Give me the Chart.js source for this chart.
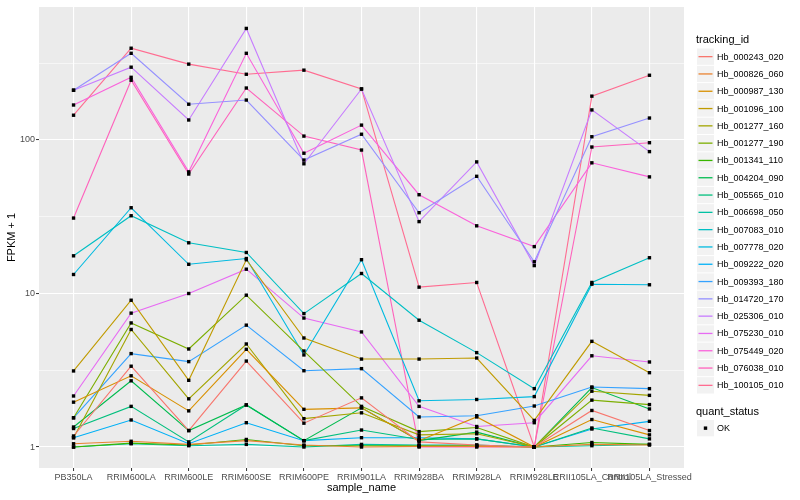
<!DOCTYPE html>
<html>
<head>
<meta charset="utf-8">
<script src="https://cdn.jsdelivr.net/npm/chart.js@4.4.0/dist/chart.umd.min.js"></script>
<style>
  body { margin: 0; background: #ffffff; }
</style>
</head>
<body>
<canvas id="chartFpkm" width="800" height="500"></canvas>
<script>
const categories = [
  "PB350LA", "RRIM600LA", "RRIM600LE", "RRIM600SE", "RRIM600PE", "RRIM901LA",
  "RRIM928BA", "RRIM928LA", "RRIM928LE", "RRII105LA_Control", "RRII105LA_Stressed",
];

const trackingIds = [
  "Hb_000243_020", "Hb_000826_060", "Hb_000987_130", "Hb_001096_100", "Hb_001277_160",
  "Hb_001277_190", "Hb_001341_110", "Hb_004204_090", "Hb_005565_010", "Hb_006698_050",
  "Hb_007083_010", "Hb_007778_020", "Hb_009222_020", "Hb_009393_180", "Hb_014720_170",
  "Hb_025306_010", "Hb_075230_010", "Hb_075449_020", "Hb_076038_010", "Hb_100105_010",
];

// FPKM + 1, one value per sample
const hb000243_020 = [1.18, 3.36, 1.28, 3.63, 1.43, 2.09, 1.08, 1.03, 1.0, 1.73, 1.28];
const hb000826_060 = [1.05, 1.09, 1.04, 1.1, 1.03, 1.0, 1.01, 1.01, 1.0, 1.04, 1.03];
const hb000987_130 = [1.96, 2.91, 1.72, 4.33, 1.76, 1.8, 1.1, 1.57, 1.0, 1.51, 1.2];
const hb001096_100 = [3.13, 9.04, 2.72, 16.6, 5.13, 3.74, 3.74, 3.8, 1.49, 4.88, 3.05];
const hb001277_160 = [1.15, 5.83, 2.06, 4.69, 1.53, 1.67, 1.2, 1.22, 1.0, 2.31, 2.17];
const hb001277_190 = [1.55, 6.43, 4.35, 9.75, 4.22, 1.84, 1.26, 1.34, 1.0, 2.02, 1.89];
const hb001341_110 = [1.0, 1.06, 1.03, 1.12, 1.02, 1.02, 1.02, 1.02, 1.0, 1.07, 1.04];
const hb004204_090 = [1.35, 2.7, 1.28, 1.88, 1.1, 1.8, 1.1, 1.25, 1.0, 2.44, 1.77];
const hb005565_010 = [1.32, 1.84, 1.08, 1.88, 1.1, 1.29, 1.12, 1.13, 1.0, 1.33, 1.13];
const hb006698_050 = [1.0, 1.05, 1.02, 1.04, 1.0, 1.04, 1.03, 1.03, 1.0, 1.02, 1.04];
const hb007083_010 = [17.6, 32.1, 21.4, 18.5, 7.4, 13.5, 6.7, 4.12, 2.4, 11.8, 17.1];
const hb007778_020 = [13.3, 36.2, 15.5, 16.9, 3.98, 16.6, 2.0, 2.04, 2.13, 11.5, 11.4];
const hb009222_020 = [1.15, 1.5, 1.05, 1.44, 1.1, 1.15, 1.15, 1.13, 1.0, 1.31, 1.47];
const hb009393_180 = [1.55, 4.06, 3.6, 6.22, 3.14, 3.24, 1.57, 1.6, 1.85, 2.46, 2.4];
const hb014720_170 = [211, 367, 171, 182, 74, 109, 33.6, 58, 16.1, 105, 139];
const hb025306_010 = [211, 298, 135, 533, 70, 215, 29.4, 72, 15.2, 157, 84];
const hb075230_010 = [2.15, 7.45, 10.0, 14.4, 6.92, 5.62, 1.84, 1.36, 1.44, 3.93, 3.58];
const hb075449_020 = [169, 256, 62, 367, 82, 125, 44, 27.6, 20.2, 71, 57.5];
const hb076038_010 = [31, 245, 60, 218, 106, 86, 1.0, 1.0, 1.0, 90, 96];
const hb100105_010 = [145, 396, 312, 268, 285, 215, 11, 11.8, 1.0, 193, 264];

const yBreaks = [1, 10, 100];
const yBreakLabels = ["1", "10", "100"];

const seriesValues = [
  hb000243_020, hb000826_060, hb000987_130, hb001096_100, hb001277_160,
  hb001277_190, hb001341_110, hb004204_090, hb005565_010, hb006698_050,
  hb007083_010, hb007778_020, hb009222_020, hb009393_180, hb014720_170,
  hb025306_010, hb075230_010, hb075449_020, hb076038_010, hb100105_010,
];

// ggplot default hue palette for 20 levels
const hueColors = [
  "#F8766D", "#EA8331", "#D89000", "#C09B00", "#A3A500", "#7CAE00", "#39B600",
  "#00BB4E", "#00BF7D", "#00C1A3", "#00BFC4", "#00BAE0", "#00B0F6", "#35A2FF",
  "#9590FF", "#C77CFF", "#E76BF3", "#FA62DB", "#FF62BC", "#FF6C91",
];

const FONT = "'Liberation Sans', Arial, Helvetica, sans-serif";
Chart.defaults.font.family = FONT;

const toPoints = (vals) => vals.map((v, j) => ({ x: j, y: v }));

const lineSets = trackingIds.map((id, i) => ({
  label: id,
  data: toPoints(seriesValues[i]),
  borderColor: hueColors[i],
  backgroundColor: hueColors[i],
  borderWidth: 1.1,
  pointRadius: 0,
  tension: 0,
  fill: false,
  order: 2,
}));

const pointSets = trackingIds.map((id, i) => ({
  label: id + " OK",
  data: toPoints(seriesValues[i]),
  showLine: false,
  pointStyle: "rect",
  pointRadius: 2.4,
  pointBackgroundColor: "#000000",
  pointBorderColor: "#000000",
  pointBorderWidth: 0,
  order: 1,
}));

// grey panel like ggplot theme_grey
const panelBg = {
  id: "panelBg",
  beforeDraw(chart) {
    const { ctx, chartArea: a } = chart;
    ctx.save();
    ctx.fillStyle = "#EBEBEB";
    ctx.fillRect(a.left, a.top, a.right - a.left, a.bottom - a.top);
    ctx.restore();
  },
};

// legend drawn on the right, ggplot style
const ggLegend = {
  id: "ggLegend",
  afterDraw(chart) {
    const ctx = chart.ctx;
    const sets = chart.data.datasets.filter((d) => d.order === 2);
    const x0 = 696, keyW = 17, step = 17.3, top = 48.5;
    ctx.save();
    ctx.textBaseline = "middle";
    ctx.textAlign = "left";
    ctx.fillStyle = "#000000";
    ctx.font = "11px " + FONT;
    ctx.fillText("tracking_id", x0, 40);
    ctx.font = "9px " + FONT;
    sets.forEach((ds, i) => {
      const y = top + i * step;
      ctx.fillStyle = "#F2F2F2";
      ctx.fillRect(x0 + 1, y, keyW, step - 1);
      ctx.strokeStyle = ds.borderColor;
      ctx.lineWidth = 1.3;
      ctx.beginPath();
      ctx.moveTo(x0 + 2.5, y + step / 2 - 0.5);
      ctx.lineTo(x0 + keyW - 0.5, y + step / 2 - 0.5);
      ctx.stroke();
      ctx.fillStyle = "#000000";
      ctx.fillText(ds.label, x0 + 21, y + step / 2);
    });
    ctx.font = "11px " + FONT;
    ctx.fillText("quant_status", x0, 412);
    const ky = 420;
    ctx.fillStyle = "#F2F2F2";
    ctx.fillRect(x0 + 1, ky, keyW, step - 1);
    ctx.fillStyle = "#000000";
    ctx.fillRect(x0 + 1 + keyW / 2 - 1.7, ky + step / 2 - 2.2, 3.4, 3.4);
    ctx.font = "9px " + FONT;
    ctx.fillText("OK", x0 + 21, ky + step / 2);
    ctx.restore();
  },
};

const isBreak = (ctx) => ctx.tick && yBreaks.includes(ctx.tick.value);

function chartFpkm() {
  const ctx = document.getElementById("chartFpkm").getContext("2d");
  new Chart(ctx, {
    type: "line",
    data: { datasets: lineSets.concat(pointSets) },
    options: {
      responsive: false,
      animation: false,
      layout: { padding: { top: 7, right: 116, bottom: 0, left: 0 } },
      plugins: {
        legend: { display: false },
        tooltip: { enabled: false },
      },
      scales: {
        x: {
          type: "linear",
          min: -0.6,
          max: categories.length - 1 + 0.6,
          afterBuildTicks: (scale) => {
            scale.ticks = categories.map((c, i) => ({ value: i }));
          },
          afterFit: (scale) => {
            scale.height = 32;
          },
          ticks: {
            callback: (v) => categories[v] ?? "",
            autoSkip: false,
            maxRotation: 0,
            minRotation: 0,
            color: "#4D4D4D",
            font: { size: 9 },
            padding: 1,
          },
          grid: {
            color: "#FFFFFF",
            lineWidth: 1.1,
            tickColor: "#333333",
            tickLength: 3,
            tickWidth: 1,
          },
          border: { display: false },
          title: {
            display: true,
            text: "sample_name",
            color: "#000000",
            font: { size: 11 },
            padding: { top: 0, bottom: 5 },
          },
        },
        y: {
          type: "logarithmic",
          min: 0.73,
          max: 735,
          bounds: "data",
          afterBuildTicks: (scale) => {
            const t = [];
            yBreaks.forEach((b) => {
              t.push({ value: b });
              t.push({ value: b * Math.sqrt(10) });
            });
            scale.ticks = t;
          },
          afterFit: (scale) => {
            scale.width = 39;
          },
          ticks: {
            callback: (v) => {
              const k = yBreaks.indexOf(v);
              return k >= 0 ? yBreakLabels[k] : "";
            },
            autoSkip: false,
            color: "#4D4D4D",
            font: { size: 9 },
            padding: 1,
          },
          grid: {
            color: "#FFFFFF",
            lineWidth: (c) => (isBreak(c) ? 1.1 : 0.55),
            tickColor: (c) => (isBreak(c) ? "#333333" : "rgba(0,0,0,0)"),
            tickLength: 3,
            tickWidth: 1,
          },
          border: { display: false },
          title: {
            display: true,
            text: "FPKM + 1",
            color: "#000000",
            font: { size: 11 },
            padding: { top: 5, bottom: 0 },
          },
        },
      },
    },
    plugins: [panelBg, ggLegend],
  });
}

window.onload = chartFpkm;
</script>
</body>
</html>
